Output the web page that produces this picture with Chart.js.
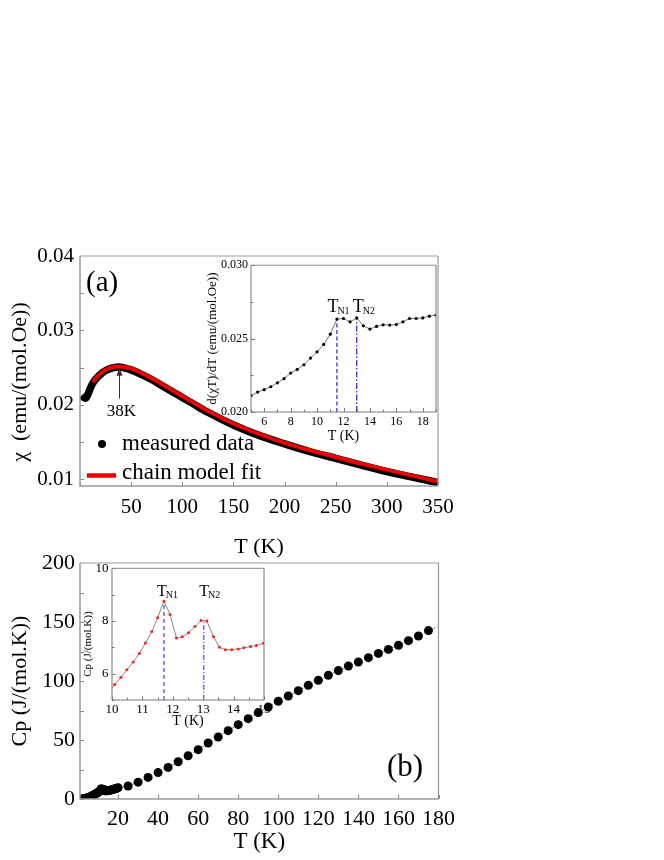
<!DOCTYPE html>
<html><head><meta charset="utf-8">
<script src="https://cdn.jsdelivr.net/npm/chart.js@4.4.0/dist/chart.umd.min.js"></script>
<style>
body{margin:0;background:#fff;}
#wrap{position:relative;width:664px;height:860px;overflow:hidden;background:#fff}
canvas{position:absolute}
</style></head><body>
<div id="wrap">
<canvas id="cA" width="664" height="326" style="left:0;top:236px"></canvas>
<canvas id="cAi" width="258" height="192" style="left:190px;top:255px"></canvas>
<canvas id="cBi" width="210" height="175" style="left:66px;top:557px"></canvas>
<canvas id="cB" width="664" height="320" style="left:0;top:540px"></canvas>
</div>
<script>
const FONT = 'Liberation Serif';
Chart.defaults.font.family = FONT;
Chart.defaults.color = '#000';
Chart.defaults.animation = false;

// ---------- Panel (a): susceptibility ----------
const chiT = [1.8,3,4,5,6,7,8,10,12,15,20,25,30,35,38,42,50,60,70,80,90,100,110,125,150,175,200,225,250,275,300,325,350];
const chiMeasured = [0.0213,0.02112,0.02095,0.02088,0.02095,0.0212,0.0215,0.0222,0.0228,0.0234,0.0241,0.0246,0.0249,0.02505,0.0251,0.0250,0.0247,0.0241,0.0234,0.0226,0.0218,0.0210,0.0202,0.0190,0.0173,0.0159,0.01475,0.0137,0.01282,0.0119,0.01103,0.0103,0.00955];
const fitT = [13,15,20,25,30,38,50,60,70,80,90,100,110,125,150,175,200,225,250,275,300,325,350];
const chiFit = [0.0230,0.0235,0.0242,0.0247,0.0250,0.02515,0.0249,0.0243,0.0236,0.0228,0.0220,0.0212,0.0204,0.0192,0.0175,0.0161,0.0149,0.0139,0.0130,0.0121,0.0113,0.0105,0.0097];
const aXTicks = [0,50,100,150,200,250,300,350];
const aXLabels = [50,100,150,200,250,300,350];
const aYTicks = [0.01,0.015,0.02,0.025,0.03,0.035,0.04];
const aYLabels = [0.01,0.02,0.03,0.04];
const peakT = 38, arrowFrom = 0.02085, arrowTo = 0.0250;

// ---------- Inset (a): d(chi T)/dT ----------
const insATemp = [5,5.5,6,6.5,7,7.5,8,8.5,9,9.5,10,10.5,11,11.5,12,12.5,13,13.5,14,14.5,15,15.5,16,16.5,17,17.5,18,18.5,19];
const insADeriv = [0.02111,0.02136,0.02152,0.02172,0.02199,0.02227,0.02265,0.0229,0.02322,0.02367,0.0241,0.0246,0.0253,0.02633,0.02637,0.02614,0.02641,0.02587,0.02565,0.02583,0.02594,0.02592,0.02596,0.02614,0.02637,0.02637,0.02641,0.02653,0.0266];
const insAXTicks = [5,6,7,8,9,10,11,12,13,14,15,16,17,18,19];
const insAXLabels = [6,8,10,12,14,16,18];
const insAYTicks = [0.020,0.0225,0.025,0.0275,0.030];
const insAYLabels = [0.020,0.025,0.030];
const insATN = [11.5, 13.0];
const insATNval = [0.02633, 0.02641];

// ---------- Panel (b): heat capacity ----------
const cpT = [2,2.5,3,3.5,4,4.5,5,5.5,6,6.5,7,7.5,8,8.5,9,9.5,10,10.5,11,11.5,11.7,12.1,12.5,13,13.5,14,14.5,15,15.5,16,16.5,17,17.5,18,18.5,19,19.5,20,
  25,30,35,40,45,50,55,60,65,70,75,80,85,90,95,100,105,110,115,120,125,130,135,140,145,150,155,160,165,170,175,180];
const cpVal = [0.1,0.15,0.25,0.4,0.6,0.8,1.1,1.4,1.8,2.2,2.7,3.1,3.6,4.1,4.6,5.0,5.5,6.3,7.1,8.1,8.75,7.35,7.55,8.0,7.0,6.9,7.0,7.1,7.3,7.5,7.7,7.9,8.1,8.4,8.6,8.9,9.2,9.5,
  11.0,14.3,18.3,22.4,26.8,31.6,36.7,41.8,47.5,52.5,57.9,63.0,68.1,73.2,78.0,82.8,87.3,91.8,96.3,100.6,104.8,108.8,112.7,116.1,119.8,123.4,126.8,130.2,134.2,138.1,142.7,146.3];
const bXTicks = [20,40,60,80,100,120,140,160,180];
const bYTicks = [0,25,50,75,100,125,150,175,200];
const bYLabels = [0,50,100,150,200];

// ---------- Inset (b): Cp near transitions ----------
const insBTemp = [10.0,10.09,10.29,10.49,10.70,10.90,11.10,11.31,11.50,11.71,11.91,12.12,12.31,12.52,12.73,12.93,13.12,13.34,13.54,13.73,13.94,14.15,14.34,14.56,14.75,14.98];
const insBCp = [5.46,5.59,5.85,6.15,6.44,6.77,7.16,7.6,8.12,8.75,8.25,7.35,7.4,7.55,7.79,8.02,8.0,7.4,7.0,6.91,6.91,6.94,6.98,7.03,7.07,7.15];
const insBXTicks = [10,10.5,11,11.5,12,12.5,13,13.5,14,14.5,15];
const insBXLabels = [10,11,12,13,14,15];
const insBYTicks = [5,6,7,8,9,10];
const insBYLabels = [6,8,10];
const insBTN = [11.71, 13.02];
const insBTNval = [8.75, 8.02];

// ---------- helpers ----------
const pts = (xs, ys) => xs.map((x, i) => ({x, y: ys[i]}));
const has = (arr, v) => arr.some(a => Math.abs(a - v) < 1e-9);
function axis(opt) {
  return {
    type: 'linear', min: opt.min, max: opt.max,
    afterFit: s => { if (opt.w !== undefined) s.width = opt.w; if (opt.h !== undefined) s.height = opt.h; },
    afterBuildTicks: s => { s.ticks = opt.ticks.map(v => ({value: v})); },
    grid: {display: false, drawTicks: false},
    border: {display: false},
    ticks: {
      autoSkip: false, maxRotation: 0, padding: opt.pad,
      font: {size: opt.fs, family: FONT}, color: '#000',
      callback: v => has(opt.labels, v) ? opt.fmt(v) : ''
    },
    title: opt.title ? {display: true, text: opt.title, font: {size: opt.tfs, family: FONT}, color: '#000', padding: opt.tpad} : {display: false}
  };
}
const frame = {
  id: 'frame',
  afterDatasetsDraw(chart, args, o) {
    const {ctx, chartArea: a} = chart;
    const xs = chart.scales.x, ys = chart.scales.y;
    ctx.save();
    ctx.strokeStyle = o.tickColor; ctx.lineWidth = 1;
    xs.ticks.forEach(t => {
      const p = Math.round(xs.getPixelForValue(t.value)) + 0.5;
      const L = t.label ? o.len : o.minor;
      ctx.beginPath(); ctx.moveTo(p, a.bottom); ctx.lineTo(p, a.bottom - L); ctx.stroke();
    });
    ys.ticks.forEach(t => {
      const p = Math.round(ys.getPixelForValue(t.value)) + 0.5;
      const L = t.label ? o.len : o.minor;
      ctx.beginPath(); ctx.moveTo(a.left, p); ctx.lineTo(a.left + L, p); ctx.stroke();
    });
    ctx.strokeStyle = o.topColor; ctx.lineWidth = o.topW;
    ctx.beginPath(); ctx.moveTo(a.left, a.top); ctx.lineTo(a.right, a.top); ctx.stroke();
    ctx.strokeStyle = o.rightColor; ctx.lineWidth = o.rightW;
    ctx.beginPath(); ctx.moveTo(a.right, a.top); ctx.lineTo(a.right, a.bottom); ctx.stroke();
    ctx.strokeStyle = o.axisColor; ctx.lineWidth = o.axisW;
    ctx.beginPath(); ctx.moveTo(a.left, a.top); ctx.lineTo(a.left, a.bottom); ctx.lineTo(a.right, a.bottom); ctx.stroke();
    ctx.restore();
  }
};
function subLabel(ctx, x, y, main, sub, fs, sfs) {
  ctx.textAlign = 'left'; ctx.textBaseline = 'alphabetic';
  ctx.font = fs + 'px ' + FONT; ctx.fillText(main, x, y);
  const w = ctx.measureText(main).width;
  ctx.font = sfs + 'px ' + FONT; ctx.fillText(sub, x + w - 1, y + 2);
}
function vText(ctx, text, x, y, fs) {
  ctx.save(); ctx.translate(x, y); ctx.rotate(-Math.PI / 2);
  ctx.font = fs + 'px ' + FONT; ctx.textAlign = 'center'; ctx.textBaseline = 'middle';
  ctx.fillText(text, 0, 0); ctx.restore();
}
const base = (pad) => ({responsive: false, events: [], layout: {padding: pad}, plugins: {legend: {display: false}, tooltip: {enabled: false}}});

// ---------- Chart (a) ----------
const annA = {
  id: 'annA',
  afterDraw(chart) {
    const {ctx} = chart, xs = chart.scales.x, ys = chart.scales.y, off = 236;
    ctx.save(); ctx.fillStyle = '#000';
    ctx.font = '29px ' + FONT; ctx.textBaseline = 'middle'; ctx.textAlign = 'left';
    ctx.fillText('(a)', 86, 283 - off);
    const ax = Math.round(xs.getPixelForValue(peakT)) + 0.5;
    ctx.font = '17px ' + FONT; ctx.textAlign = 'center';
    ctx.fillText('38K', ax + 2, 412 - off);
    const y1 = ys.getPixelForValue(arrowFrom), y2 = ys.getPixelForValue(arrowTo);
    ctx.strokeStyle = '#333'; ctx.lineWidth = 1;
    ctx.beginPath(); ctx.moveTo(ax, y1); ctx.lineTo(ax, y2 + 6); ctx.stroke();
    ctx.fillStyle = '#333';
    ctx.beginPath(); ctx.moveTo(ax, y2); ctx.lineTo(ax - 3, y2 + 8); ctx.lineTo(ax + 3, y2 + 8); ctx.closePath(); ctx.fill();
    ctx.fillStyle = '#000';
    ctx.beginPath(); ctx.arc(102, 444 - off, 4, 0, Math.PI * 2); ctx.fill();
    ctx.font = '23px ' + FONT; ctx.textAlign = 'left'; ctx.textBaseline = 'middle';
    ctx.fillText('measured data', 122, 444 - off);
    ctx.strokeStyle = '#ee0000'; ctx.lineWidth = 4.5;
    ctx.beginPath(); ctx.moveTo(87, 475.5 - off); ctx.lineTo(116, 475.5 - off); ctx.stroke();
    ctx.fillText('chain model fit', 122, 473 - off);
    vText(ctx, 'χ  (emu/(mol.Oe))', 20, 382 - off, 22);
    ctx.restore();
  }
};
new Chart(document.getElementById('cA'), {
  type: 'scatter',
  data: {datasets: [
    {data: pts(fitT, chiFit), showLine: true, borderColor: '#ee0000', borderWidth: 4, pointRadius: 0, cubicInterpolationMode: 'monotone'},
    {data: pts(chiT, chiMeasured), showLine: true, borderColor: '#000', borderWidth: 7.5, pointRadius: 0, cubicInterpolationMode: 'monotone'}
  ]},
  options: Object.assign(base({left: 0, right: 226, top: 20, bottom: 0}), {
    scales: {
      x: axis({min: 0, max: 350, ticks: aXTicks, labels: aXLabels, fmt: v => String(v), fs: 21, pad: 9, h: 76, title: 'T (K)', tfs: 22, tpad: {bottom: 2}}),
      y: axis({min: 0.0091, max: 0.04, ticks: aYTicks, labels: aYLabels, fmt: v => v.toFixed(2), fs: 21, pad: 6, w: 80})
    },
    plugins: {legend: {display: false}, tooltip: {enabled: false},
      frame: {tickColor: '#888', len: 4, minor: 4, axisColor: '#999', axisW: 1.5, topColor: '#ccc', topW: 2, rightColor: '#999', rightW: 1.2}}
  }),
  plugins: [frame, annA]
});

// ---------- Inset (a) ----------
const annAi = {
  id: 'annAi',
  afterDraw(chart) {
    const {ctx} = chart, xs = chart.scales.x, a = chart.chartArea;
    ctx.save(); ctx.fillStyle = '#000';
    subLabel(ctx, xs.getPixelForValue(insATN[0]) - 9.5, a.top + 46.5, 'T', 'N1', 18, 10);
    subLabel(ctx, xs.getPixelForValue(insATN[1]) - 4, a.top + 46.5, 'T', 'N2', 18, 10);
    vText(ctx, 'd(χT)/dT (emu/(mol.Oe))', 23, (a.top + a.bottom) / 2, 13);
    ctx.restore();
  }
};
new Chart(document.getElementById('cAi'), {
  type: 'scatter',
  data: {datasets: [
    {data: pts(insATemp, insADeriv), showLine: true, borderColor: '#777', borderWidth: 1, pointRadius: 1.6, pointBackgroundColor: '#000', pointBorderWidth: 0},
    {data: [{x: insATN[0], y: 0.020}, {x: insATN[0], y: insATNval[0]}], showLine: true, borderColor: '#1f1fff', borderWidth: 1.2, borderDash: [4, 2.5], pointRadius: 0},
    {data: [{x: insATN[1], y: 0.020}, {x: insATN[1], y: insATNval[1]}], showLine: true, borderColor: '#1f1fff', borderWidth: 1.2, borderDash: [6, 2, 1.5, 2], pointRadius: 0}
  ]},
  options: Object.assign(base({left: 0, right: 12, top: 10, bottom: 0}), {
    scales: {
      x: axis({min: 5, max: 19, ticks: insAXTicks, labels: insAXLabels, fmt: v => String(v), fs: 12, pad: 2.5, h: 35, title: 'T (K)', tfs: 14, tpad: {bottom: 2}}),
      y: axis({min: 0.020, max: 0.030, ticks: insAYTicks, labels: insAYLabels, fmt: v => v.toFixed(3), fs: 12, pad: 3, w: 61})
    },
    plugins: {legend: {display: false}, tooltip: {enabled: false},
      frame: {tickColor: '#777', len: 4, minor: 2.5, axisColor: '#777', axisW: 1, topColor: '#888', topW: 1, rightColor: '#777', rightW: 1}}
  }),
  plugins: [frame, annAi]
});

// ---------- Inset (b) ----------
const annBi = {
  id: 'annBi',
  afterDraw(chart) {
    const {ctx} = chart, xs = chart.scales.x, a = chart.chartArea;
    ctx.save(); ctx.fillStyle = '#000';
    subLabel(ctx, xs.getPixelForValue(insBTN[0]) - 7, a.top + 28, 'T', 'N1', 16, 10);
    subLabel(ctx, xs.getPixelForValue(insBTN[1]) - 4.5, a.top + 28, 'T', 'N2', 16, 10);
    vText(ctx, 'Cp (J/(mol.K))', 22, (a.top + a.bottom) / 2 + 10, 11);
    ctx.restore();
  }
};
new Chart(document.getElementById('cBi'), {
  type: 'scatter',
  data: {datasets: [
    {data: pts(insBTemp, insBCp), showLine: true, borderColor: '#888', borderWidth: 1,
     pointRadius: c => c.dataIndex === 0 ? 0 : 1.5, pointBackgroundColor: '#ff2020', pointBorderWidth: 0},
    {data: [{x: insBTN[0], y: 5}, {x: insBTN[0], y: insBTNval[0]}], showLine: true, borderColor: '#8888ff', borderWidth: 2, borderDash: [4, 3], pointRadius: 0},
    {data: [{x: insBTN[1], y: 5}, {x: insBTN[1], y: insBTNval[1]}], showLine: true, borderColor: '#2a2ad6', borderWidth: 1, borderDash: [5, 2, 1, 2], pointRadius: 0}
  ]},
  options: Object.assign(base({left: 0, right: 12, top: 10, bottom: 0}), {
    scales: {
      x: axis({min: 10, max: 15, ticks: insBXTicks, labels: insBXLabels, fmt: v => String(v), fs: 13, pad: 1.5, h: 32, title: 'T (K)', tfs: 14, tpad: {bottom: 2}}),
      y: axis({min: 5, max: 10, ticks: insBYTicks, labels: insBYLabels, fmt: v => String(v), fs: 13, pad: 3.5, w: 46})
    },
    plugins: {legend: {display: false}, tooltip: {enabled: false},
      frame: {tickColor: '#777', len: 3.5, minor: 2.5, axisColor: '#777', axisW: 1, topColor: '#888', topW: 1, rightColor: '#777', rightW: 1}}
  }),
  plugins: [frame, annBi]
});

// ---------- Chart (b) ----------
const annB = {
  id: 'annB',
  afterDraw(chart) {
    const {ctx} = chart, off = 540;
    ctx.save(); ctx.fillStyle = '#000';
    ctx.font = '31px ' + FONT; ctx.textBaseline = 'middle'; ctx.textAlign = 'left';
    ctx.fillText('(b)', 387, 768 - off);
    ctx.restore();
  }
};
new Chart(document.getElementById('cB'), {
  type: 'scatter',
  data: {datasets: [
    {data: pts(cpT, cpVal), showLine: true, borderColor: '#888', borderWidth: 1, borderDash: [3, 2],
     pointRadius: c => c.dataIndex === cpT.length - 1 ? 0 : 4.5, pointBackgroundColor: '#000', pointBorderWidth: 0}
  ]},
  options: Object.assign(base({left: 0, right: 225.5, top: 23, bottom: 0}), {
    scales: {
      x: axis({min: 1, max: 180, ticks: bXTicks, labels: bXTicks, fmt: v => String(v), fs: 22, pad: 7, h: 61, title: 'T (K)', tfs: 23, tpad: {bottom: 4}}),
      y: axis({min: 0, max: 200, ticks: bYTicks, labels: bYLabels, fmt: v => String(v), fs: 22, pad: 5, w: 80, title: 'Cp (J/(mol.K))', tfs: 22, tpad: {top: 7}})
    },
    plugins: {legend: {display: false}, tooltip: {enabled: false},
      frame: {tickColor: '#888', len: 4, minor: 4, axisColor: '#999', axisW: 1.5, topColor: '#ccc', topW: 2, rightColor: '#999', rightW: 1.2}}
  }),
  plugins: [frame, annB]
});
</script>
</body></html>
